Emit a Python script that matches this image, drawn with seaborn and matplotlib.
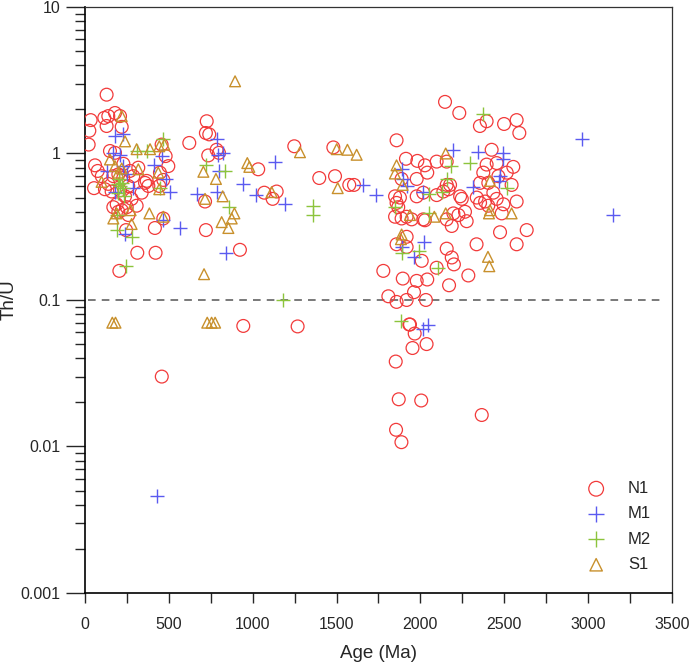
import numpy as np
import pandas as pd
import matplotlib
matplotlib.use('Agg')
import matplotlib.pyplot as plt
import seaborn as sns
from matplotlib.ticker import FixedLocator, FuncFormatter, NullFormatter, MultipleLocator

# Zircon ages (Ma) and Th/U ratios, one pair of lists per group
n1_age = [129, 34, 26, 22, 60, 76, 54, 115, 139, 129, 179, 209, 219, 149, 179,
          169, 199, 228, 268, 288, 258, 209, 239, 278, 308, 169, 199, 249, 338, 358,
          378, 368, 318, 139, 159, 229, 189, 219, 259, 119, 100, 245, 312, 421, 205,
          417, 467, 457, 481, 497, 447, 467, 443, 622, 726, 721, 741, 735, 785, 799,
          716, 721, 924, 1033, 1069, 1143, 1119, 1248, 1397, 1491, 1576, 1481, 944, 1268, 458,
          1604, 2147, 2232, 2355, 2395, 2499, 2574, 2590, 1858, 1914, 1982, 2027, 2041, 2097,
          2157, 2425, 2395, 2455, 2554, 2515, 2375, 1888, 1978, 2017, 1978, 1878, 1849, 1858,
          1868, 1849, 1888, 1918, 1948, 2017, 2027, 2097, 2137, 2167, 2157, 2177, 2197, 2227,
          2266, 2276, 2157, 2187, 2237, 2247, 2336, 2356, 2386, 2405, 2435, 2455, 2485, 2495,
          2574, 2544, 2465, 2405, 2356, 2475, 2634, 2574, 2335, 2157, 2187, 2200, 2286, 2171,
          2008, 1962, 1895, 1978, 2041, 2097, 1779, 1809, 1858, 1918, 2033, 1938, 1858, 1918,
          1918, 1853, 1871, 2005, 1855, 1887, 2366, 1934, 1966, 1953, 2037]
n1_thu = [2.52, 1.69, 1.43, 1.15, 0.83, 0.76, 0.58, 1.75, 1.80, 1.54, 1.89, 1.80, 1.52, 1.04, 1.01,
          0.70, 0.72, 0.68, 0.76, 0.70, 0.60, 0.56, 0.51, 0.49, 0.44, 0.43, 0.40, 0.43, 0.54, 0.63,
          0.60, 0.65, 0.80, 0.62, 0.55, 0.85, 0.45, 0.41, 0.38, 0.57, 0.70, 0.30, 0.21, 0.21, 0.158,
          0.31, 0.36, 1.15, 0.96, 0.82, 0.74, 0.66, 0.60, 1.18, 1.66, 1.38, 1.35, 0.97, 1.06, 1.01,
          0.47, 0.30, 0.22, 0.78, 0.54, 0.55, 0.49, 1.12, 0.68, 0.70, 0.61, 1.10, 0.0665, 0.066, 0.030,
          0.61, 2.25, 1.89, 1.54, 1.66, 1.59, 1.69, 1.38, 1.23, 0.92, 0.89, 0.83, 0.74, 0.88,
          0.88, 1.06, 0.84, 0.86, 0.81, 0.74, 0.74, 0.67, 0.67, 0.54, 0.51, 0.50, 0.51, 0.46,
          0.43, 0.37, 0.36, 0.37, 0.355, 0.355, 0.35, 0.52, 0.55, 0.57, 0.61, 0.61, 0.39, 0.38,
          0.40, 0.345, 0.355, 0.32, 0.51, 0.49, 0.50, 0.46, 0.47, 0.44, 0.54, 0.49, 0.39, 0.45,
          0.47, 0.61, 0.70, 0.63, 0.63, 0.29, 0.30, 0.24, 0.24, 0.224, 0.195, 0.175, 0.147, 0.126,
          0.185, 0.113, 0.14, 0.135, 0.138, 0.166, 0.158, 0.106, 0.097, 0.10, 0.10, 0.068, 0.24, 0.27,
          0.23, 0.038, 0.021, 0.0206, 0.013, 0.0107, 0.0164, 0.068, 0.059, 0.047, 0.050]

m1_age = [179, 228, 169, 209, 129, 228, 248, 288, 179, 239, 457, 412, 483, 507, 463,
          567, 666, 785, 795, 821, 785, 801, 841, 940, 1020, 1133, 1193, 432,
          2966, 3150, 2197, 2346, 2495, 2495, 2475, 2471, 2316, 2018, 1918, 1898, 1656, 1735,
          2024, 1888, 1962, 2045, 2018, 1888]
m1_thu = [1.31, 1.35, 1.0, 0.98, 0.76, 0.82, 0.72, 0.58, 0.55, 0.28, 0.96, 0.84, 0.67, 0.55, 0.35,
          0.31, 0.53, 1.25, 0.98, 1.0, 0.55, 0.76, 0.21, 0.62, 0.52, 0.88, 0.45, 0.0046,
          1.25, 0.378, 1.06, 1.02, 1.0, 0.91, 0.70, 0.65, 0.59, 0.55, 0.60, 0.67, 0.61, 0.52,
          0.25, 0.23, 0.195, 0.067, 0.063, 0.78]

m2_age = [467, 308, 368, 205, 219, 199, 233, 189, 189, 278, 245, 447, 724, 835, 861,
          1358, 1362, 1183, 210, 225, 195,
          2375, 2297, 2181, 2161, 2131, 2052, 2519, 1848, 2053, 1888, 1992, 2103, 1884]
m2_thu = [1.26, 1.04, 1.04, 0.67, 0.63, 0.54, 0.51, 0.38, 0.30, 0.27, 0.17, 0.58, 0.84, 0.76, 0.43,
          0.44, 0.38, 0.10, 0.60, 0.58, 0.62,
          1.87, 0.855, 0.82, 0.665, 0.545, 0.525, 0.58, 0.43, 0.39, 0.21, 0.216, 0.166, 0.072]

s1_age = [895, 219, 239, 308, 388, 443, 473, 99, 149, 179, 199, 219, 318, 169, 189,
          272, 278, 384, 437, 443, 467, 706, 781, 716, 821, 815, 855, 875, 891, 968,
          980, 710, 1113, 1282, 1501, 1565, 1620, 1507, 163, 182, 729, 755, 776,
          1858, 1848, 2151, 1894, 1938, 2083, 2151, 2415, 2415, 2409, 2544, 1888, 1884, 2403, 2411]
s1_thu = [3.11, 1.80, 1.21, 1.07, 1.07, 1.12, 1.15, 0.64, 0.91, 0.82, 0.74, 0.79, 0.78, 0.36, 0.39,
          0.41, 0.33, 0.39, 0.74, 0.57, 0.37, 0.75, 0.67, 0.49, 0.51, 0.34, 0.31, 0.36, 0.39, 0.86,
          0.81, 0.15, 0.545, 1.02, 1.07, 1.06, 0.98, 0.58, 0.070, 0.070, 0.070, 0.070, 0.070,
          0.83, 0.73, 1.0, 0.61, 0.38, 0.37, 0.39, 0.65, 0.41, 0.39, 0.39, 0.28, 0.26, 0.197, 0.17]

groups = ['N1', 'M1', 'M2', 'S1']

df = pd.concat([
    pd.DataFrame({'Age': n1_age, 'ThU': n1_thu, 'Sample': 'N1'}),
    pd.DataFrame({'Age': m1_age, 'ThU': m1_thu, 'Sample': 'M1'}),
    pd.DataFrame({'Age': m2_age, 'ThU': m2_thu, 'Sample': 'M2'}),
    pd.DataFrame({'Age': s1_age, 'ThU': s1_thu, 'Sample': 'S1'}),
], ignore_index=True)

sns.set_style('white')
plt.rcParams['font.family'] = ['Liberation Sans', 'DejaVu Sans']

fig = plt.figure(figsize=(6.92, 6.65), dpi=100)
ax = fig.add_axes([0.1228, 0.1083, 0.8482, 0.8812])

# marker look for each group
styles = {
    'N1': dict(marker='o', s=85, facecolor='none', edgecolor='#f23a3a', color='#f23a3a', linewidth=0.9),
    'M1': dict(marker='+', s=110, color='#5a5af0', linewidth=1.0),
    'M2': dict(marker='+', s=110, color='#8cc43c', linewidth=1.0),
    'S1': dict(marker='^', s=60, facecolor='none', edgecolor='#c8902c', color='#c8902c', linewidth=1.0),
}

for g in groups:
    sub = df[df['Sample'] == g]
    sns.scatterplot(data=sub, x='Age', y='ThU', ax=ax, label=g, zorder=3, **styles[g])

# Th/U = 0.1 reference line
ax.axhline(0.1, xmin=0.005, xmax=0.985, color='#555555', linestyle=(0, (5, 4)), linewidth=1.1, zorder=2)

ax.set_yscale('log')
ax.set_ylim(0.001, 10)
ax.set_xlim(0, 3500)

ax.yaxis.set_major_locator(FixedLocator([0.001, 0.01, 0.1, 1, 10]))
ax.yaxis.set_major_formatter(FuncFormatter(lambda v, p: f'{v:g}'))
minor = [m * 10.0 ** e for e in range(-3, 1) for m in range(2, 10)]
ax.yaxis.set_minor_locator(FixedLocator(minor))
ax.yaxis.set_minor_formatter(NullFormatter())
ax.xaxis.set_major_locator(MultipleLocator(500))
ax.xaxis.set_minor_locator(MultipleLocator(250))

ax.tick_params(axis='y', which='major', direction='out', length=14, width=1, labelsize=11.5, left=True)
ax.tick_params(axis='y', which='minor', direction='out', length=7, width=1, left=True)
ax.tick_params(axis='x', which='both', direction='out', length=7, width=1, labelsize=11.5, bottom=True, pad=10)

for side in ['left', 'bottom']:
    ax.spines[side].set_color('black')
    ax.spines[side].set_linewidth(1.2)
for side in ['top', 'right']:
    ax.spines[side].set_color('#333333')
    ax.spines[side].set_linewidth(0.9)

ax.set_xlabel('Age (Ma)', fontsize=13.5, labelpad=10)
ax.set_ylabel('Th/U', fontsize=13.5, labelpad=2)

leg = ax.legend(loc='lower right', bbox_to_anchor=(0.99, 0.01), frameon=False, fontsize=12,
                labelspacing=0.62, handletextpad=0.9, markerscale=1.15)

fig.savefig('out.png', dpi=100)
